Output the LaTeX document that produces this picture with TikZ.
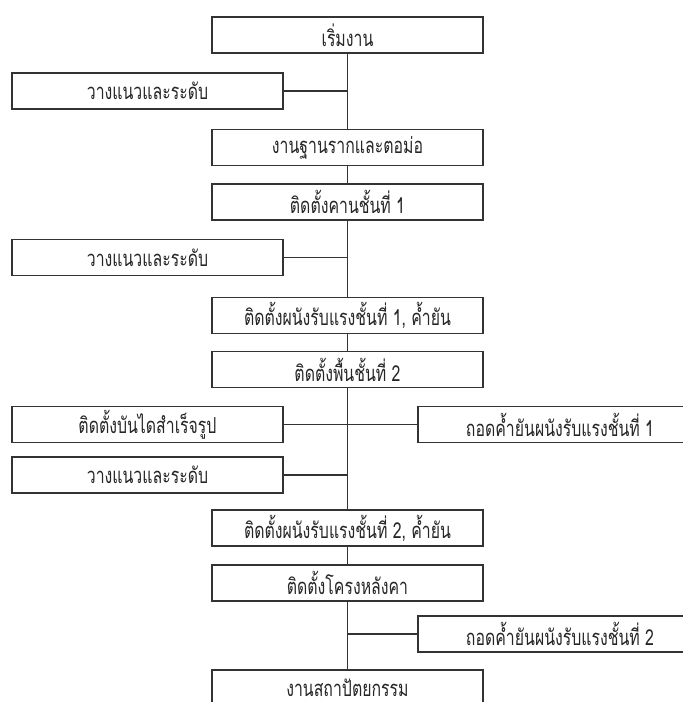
\documentclass[tikz,border=0pt]{standalone}
\usepackage{fontspec}
\newfontfamily\thaifont[Script=Thai, FakeStretch=0.72]{Loma}
\usetikzlibrary{positioning}

\begin{document}
\begin{tikzpicture}[x=0.5pt, y=-0.5pt,
    box/.style={draw=black!80, line width=0.8pt, fill=white, text=black!85,
        minimum width=135.5pt, minimum height=18pt, inner sep=0pt,
        font=\thaifont\fontsize{11}{13}\selectfont},
    link/.style={draw=black!80, line width=0.7pt}]
    \useasboundingbox (0,0) rectangle (683,702);
    \clip (0,0) rectangle (683,702);

    % Main sequence of work
    \node[box] (start)  at (347.5,35)    {เริ่มงาน};
    \node[box] (found)  at (347.5,147.5) {งานฐานรากและตอม่อ};
    \node[box] (beam1)  at (347.5,202)   {ติดตั้งคานชั้นที่ 1};
    \node[box] (wall1)  at (347.5,315.5) {ติดตั้งผนังรับแรงชั้นที่ 1, ค้ำยัน};
    \node[box] (floor2) at (347.5,369.5) {ติดตั้งพื้นชั้นที่ 2};
    \node[box] (wall2)  at (347.5,528)   {ติดตั้งผนังรับแรงชั้นที่ 2, ค้ำยัน};
    \node[box] (roof)   at (347.5,583)   {ติดตั้งโครงหลังคา};
    \node[box, text depth=0pt] (arch) at (347.5,688) {งานสถาปัตยกรรม};

    % Side tasks, left
    \node[box] (layout1) at (147.5,91)    {วางแนวและระดับ};
    \node[box] (layout2) at (147.5,257.5) {วางแนวและระดับ};
    \node[box] (stair)   at (147.5,424.5) {ติดตั้งบันไดสำเร็จรูป};
    \node[box] (layout3) at (147.5,475)   {วางแนวและระดับ};

    % Side tasks, right
    \node[box, minimum width=142pt] (unshore1) at (560,424.5) {ถอดค้ำยันผนังรับแรงชั้นที่ 1};
    \node[box, minimum width=142pt] (unshore2) at (560,634)   {ถอดค้ำยันผนังรับแรงชั้นที่ 2};

    % Trunk line
    \draw[link] (start) -- (found);
    \draw[link] (found) -- (beam1);
    \draw[link] (beam1) -- (wall1);
    \draw[link] (wall1) -- (floor2);
    \draw[link] (floor2) -- (wall2);
    \draw[link] (wall2) -- (roof);
    \draw[link] (roof) -- (arch);

    % Branches to the trunk
    \draw[link] (layout1) -- (layout1 -| start);
    \draw[link] (layout2) -- (layout2 -| start);
    \draw[link] (stair) -- (stair -| start);
    \draw[link] (layout3) -- (layout3 -| start);
    \draw[link] (unshore1) -- (unshore1 -| start);
    \draw[link] (unshore2) -- (unshore2 -| start);
\end{tikzpicture}
\end{document}
